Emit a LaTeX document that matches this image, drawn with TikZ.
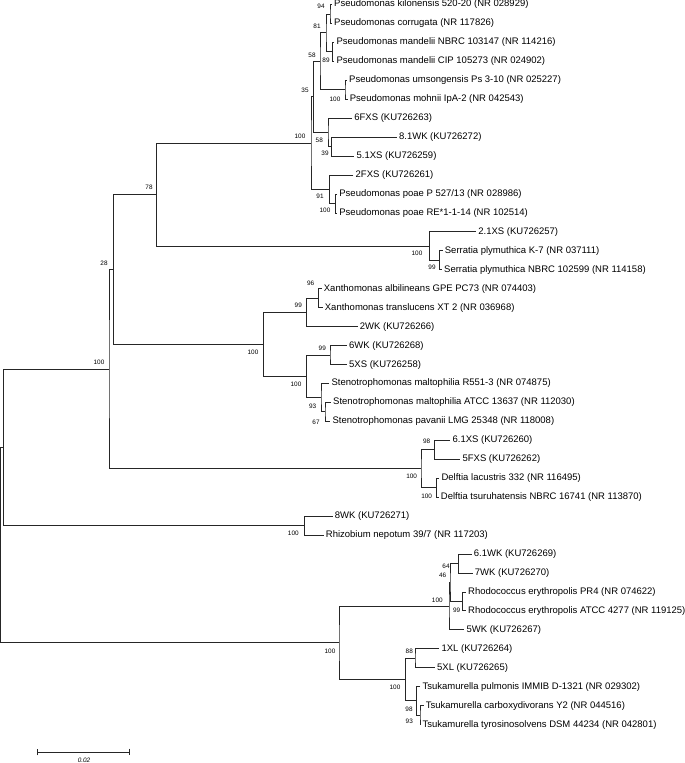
\documentclass[tikz,border=0pt]{standalone}
\usepackage{fontspec}
\setmainfont{Liberation Sans}
\usetikzlibrary{arrows.meta}

\begin{document}
\begin{tikzpicture}[
    x=1pt, y=-1pt,
    taxon/.style={anchor=west, inner xsep=2.2pt, inner ysep=0pt,
                  font=\fontsize{9.5}{11}\selectfont},
    boot/.style={inner sep=0pt, font=\fontsize{6.4}{7}\selectfont},
    branch/.style={draw=black!85, line width=0.9pt}
  ]
    \useasboundingbox (0,0) rectangle (685,763);

    % taxa
    \node[taxon] (l1) at (331.8,4.5) {Pseudomonas kilonensis 520-20 (NR 028929)};
    \node[taxon] (l2) at (331.8,23.45) {Pseudomonas corrugata (NR 117826)};
    \node[taxon] (l3) at (334.2,42.4) {Pseudomonas mandelii NBRC 103147 (NR 114216)};
    \node[taxon] (l4) at (334.2,61.35) {Pseudomonas mandelii CIP 105273 (NR 024902)};
    \node[taxon] (l5) at (346.8,80.3) {Pseudomonas umsongensis Ps 3-10 (NR 025227)};
    \node[taxon] (l6) at (347.5,99.25) {Pseudomonas mohnii IpA-2 (NR 042543)};
    \node[taxon] (l7) at (352,118.2) {6FXS (KU726263)};
    \node[taxon] (l8) at (396.7,137.15) {8.1WK (KU726272)};
    \node[taxon] (l9) at (354.3,156.1) {5.1XS (KU726259)};
    \node[taxon] (l10) at (353.3,175.05) {2FXS (KU726261)};
    \node[taxon] (l11) at (337,194) {Pseudomonas poae P 527/13 (NR 028986)};
    \node[taxon] (l12) at (337,212.95) {Pseudomonas poae RE*1-1-14 (NR 102514)};
    \node[taxon] (l13) at (476,231.9) {2.1XS (KU726257)};
    \node[taxon] (l14) at (442.5,250.85) {Serratia plymuthica K-7 (NR 037111)};
    \node[taxon] (l15) at (441.8,269.8) {Serratia plymuthica NBRC 102599 (NR 114158)};
    \node[taxon] (l16) at (321.5,288.75) {Xanthomonas albilineans GPE PC73 (NR 074403)};
    \node[taxon] (l17) at (322.5,307.7) {Xanthomonas translucens XT 2 (NR 036968)};
    \node[taxon] (l18) at (357.5,326.65) {2WK (KU726266)};
    \node[taxon] (l19) at (346.8,345.6) {6WK (KU726268)};
    \node[taxon] (l20) at (346.8,364.55) {5XS (KU726258)};
    \node[taxon] (l21) at (329.2,383.5) {Stenotrophomonas maltophilia R551-3 (NR 074875)};
    \node[taxon] (l22) at (330.8,402.45) {Stenotrophomonas maltophilia ATCC 13637 (NR 112030)};
    \node[taxon] (l23) at (330.2,421.4) {Stenotrophomonas pavanii LMG 25348 (NR 118008)};
    \node[taxon] (l24) at (450.2,440.35) {6.1XS (KU726260)};
    \node[taxon] (l25) at (460.2,459.3) {5FXS (KU726262)};
    \node[taxon] (l26) at (439.2,478.25) {Delftia lacustris 332 (NR 116495)};
    \node[taxon] (l27) at (438.5,497.2) {Delftia tsuruhatensis NBRC 16741 (NR 113870)};
    \node[taxon] (l28) at (332.5,516.15) {8WK (KU726271)};
    \node[taxon] (l29) at (323.5,535.1) {Rhizobium nepotum 39/7 (NR 117203)};
    \node[taxon] (l30) at (471.5,554.05) {6.1WK (KU726269)};
    \node[taxon] (l31) at (472.5,573) {7WK (KU726270)};
    \node[taxon] (l32) at (465.8,591.95) {Rhodococcus erythropolis PR4 (NR 074622)};
    \node[taxon] (l33) at (465.8,610.9) {Rhodococcus erythropolis ATCC 4277 (NR 119125)};
    \node[taxon] (l34) at (464.2,629.85) {5WK (KU726267)};
    \node[taxon] (l35) at (439.2,648.8) {1XL (KU726264)};
    \node[taxon] (l36) at (434.8,667.75) {5XL (KU726265)};
    \node[taxon] (l37) at (420.2,686.7) {Tsukamurella pulmonis IMMIB D-1321 (NR 029302)};
    \node[taxon] (l38) at (423.5,705.65) {Tsukamurella carboxydivorans Y2 (NR 044516)};
    \node[taxon] (l39) at (420.2,724.6) {Tsukamurella tyrosinosolvens DSM 44234 (NR 042801)};

    % inner nodes
    \coordinate (n94) at (330,13.98);
    \coordinate (n89) at (332.3,51.88);
    \coordinate (n81) at (326,32.93);
    \coordinate (nUM) at (345,89.78);
    \coordinate (n58a) at (320,61.35);
    \coordinate (n39) at (331.7,146.63);
    \coordinate (n58b) at (328,132.41);
    \coordinate (n35) at (313.3,96.88);
    \coordinate (nPo) at (335.7,203.48);
    \coordinate (n91) at (329.3,189.26);
    \coordinate (nPs) at (311,143.07);
    \coordinate (nSp) at (439.3,260.33);
    \coordinate (nSe) at (429.3,246.11);
    \coordinate (n78) at (156.7,194.59);
    \coordinate (n96) at (318.3,298.23);
    \coordinate (n99x) at (306.7,312.44);
    \coordinate (n99w) at (330,355.08);
    \coordinate (n67) at (325,411.93);
    \coordinate (n93) at (321,397.71);
    \coordinate (nSt) at (306.7,376.4);
    \coordinate (nXS) at (263.3,344.42);
    \coordinate (n28) at (113.3,269.5);
    \coordinate (n98) at (434.3,449.83);
    \coordinate (nDe) at (436.7,487.73);
    \coordinate (nDl) at (421,468.78);
    \coordinate (nBig) at (109,369.14);
    \coordinate (nRz) at (304.3,525.63);
    \coordinate (nA) at (3.3,447.38);
    \coordinate (n64) at (458.3,563.53);
    \coordinate (n99r) at (462.3,601.43);
    \coordinate (n46) at (450,582.48);
    \coordinate (nRh) at (449,606.16);
    \coordinate (n88) at (415,658.28);
    \coordinate (n93t) at (420,715.13);
    \coordinate (n98t) at (416.7,700.91);
    \coordinate (nTs) at (405.7,679.6);
    \coordinate (nRT) at (339,642.88);
    \coordinate (root) at (0.8,545.13);

    % branches
    \draw[branch] (l1.west) -| (n94) |- (l2.west);
    \draw[branch] (l3.west) -| (n89) |- (l4.west);
    \draw[branch] (n94) -| (n81) |- (n89);
    \draw[branch] (l5.west) -| (nUM) |- (l6.west);
    \draw[branch] (n81) -| (n58a) |- (nUM);
    \draw[branch] (l8.west) -| (n39) |- (l9.west);
    \draw[branch] (l7.west) -| (n58b) |- (n39);
    \draw[branch] (n58a) -| (n35) |- (n58b);
    \draw[branch] (l11.west) -| (nPo) |- (l12.west);
    \draw[branch] (l10.west) -| (n91) |- (nPo);
    \draw[branch] (n35) -| (nPs) |- (n91);
    \draw[branch] (l14.west) -| (nSp) |- (l15.west);
    \draw[branch] (l13.west) -| (nSe) |- (nSp);
    \draw[branch] (nPs) -| (n78) |- (nSe);
    \draw[branch] (l16.west) -| (n96) |- (l17.west);
    \draw[branch] (n96) -| (n99x) |- (l18.west);
    \draw[branch] (l19.west) -| (n99w) |- (l20.west);
    \draw[branch] (l22.west) -| (n67) |- (l23.west);
    \draw[branch] (l21.west) -| (n93) |- (n67);
    \draw[branch] (n99w) -| (nSt) |- (n93);
    \draw[branch] (n99x) -| (nXS) |- (nSt);
    \draw[branch] (n78) -| (n28) |- (nXS);
    \draw[branch] (l24.west) -| (n98) |- (l25.west);
    \draw[branch] (l26.west) -| (nDe) |- (l27.west);
    \draw[branch] (n98) -| (nDl) |- (nDe);
    \draw[branch] (n28) -| (nBig) |- (nDl);
    \draw[branch] (l28.west) -| (nRz) |- (l29.west);
    \draw[branch] (nBig) -| (nA) |- (nRz);
    \draw[branch] (l30.west) -| (n64) |- (l31.west);
    \draw[branch] (l32.west) -| (n99r) |- (l33.west);
    \draw[branch] (n64) -| (n46) |- (n99r);
    \draw[branch] (n46) -| (nRh) |- (l34.west);
    \draw[branch] (l35.west) -| (n88) |- (l36.west);
    \draw[branch] (l38.west) -| (n93t) |- (l39.west);
    \draw[branch] (l37.west) -| (n98t) |- (n93t);
    \draw[branch] (n88) -| (nTs) |- (n98t);
    \draw[branch] (nRh) -| (nRT) |- (nTs);
    \draw[branch] (nA) -| (root) |- (nRT);

    % bootstrap values
    \node[boot] (b94) at (321,6.7) {94};
    \node[boot] (b81) at (317,26) {81};
    \node[boot] (b89) at (326,60) {89};
    \node[boot] (b58a) at (312,55) {58};
    \node[boot] (bUM) at (335,99) {100};
    \node[boot] (b35) at (305,90) {35};
    \node[boot] (b58b) at (319.3,140) {58};
    \node[boot] (b39) at (325,153) {39};
    \node[boot] (b91) at (320,196) {91};
    \node[boot] (bPo) at (325,210) {100};
    \node[boot] (bPs) at (300,136) {100};
    \node[boot] (b78) at (149,187) {78};
    \node[boot] (b28) at (104,263) {28};
    \node[boot] (bBig) at (99,362) {100};
    \node[boot] (bSe) at (417,253) {100};
    \node[boot] (bSp) at (432,267) {99};
    \node[boot] (b96) at (310.7,283.3) {96};
    \node[boot] (b99x) at (298.3,305.7) {99};
    \node[boot] (bXS) at (253,352) {100};
    \node[boot] (b99w) at (322.3,348.3) {99};
    \node[boot] (bSt) at (296,384.5) {100};
    \node[boot] (b93) at (312.7,406.7) {93};
    \node[boot] (b67) at (316,422.7) {67};
    \node[boot] (b98) at (426.7,441.7) {98};
    \node[boot] (bDl) at (411.7,476.5) {100};
    \node[boot] (bDe) at (426.7,496) {100};
    \node[boot] (bRz) at (293.3,533.3) {100};
    \node[boot] (b64) at (446,566) {64};
    \node[boot] (b46) at (442.7,575.7) {46};
    \node[boot] (bRh) at (437.3,600) {100};
    \node[boot] (b99r) at (456.7,610.7) {99};
    \node[boot] (bRT) at (330,651) {100};
    \node[boot] (b88) at (409.3,651.7) {88};
    \node[boot] (bTs) at (395,687.7) {100};
    \node[boot] (b98t) at (409,709) {98};
    \node[boot] (b93t) at (409.3,721.7) {93};

    % scale bar
    \coordinate (s0) at (37,752);
    \coordinate (s1) at (130,752);
    \draw[branch, {Bar[width=6.6pt]}-{Bar[width=6.6pt]}] (s0) -- (s1);
    \node[boot, font=\fontsize{6.4}{7}\selectfont\itshape] (sl) at (84,760) {0.02};
  \end{tikzpicture}
\end{document}
